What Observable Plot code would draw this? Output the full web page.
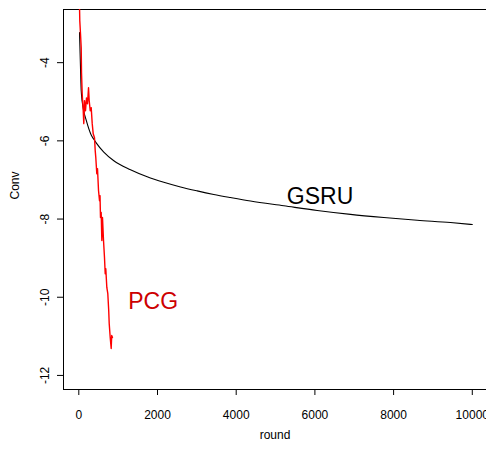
<!DOCTYPE html>
<html>
<head>
<meta charset="utf-8">
<script src="https://cdn.jsdelivr.net/npm/d3@7"></script>
<script src="https://cdn.jsdelivr.net/npm/@observablehq/plot@0.6"></script>
<style>
  html, body { margin: 0; padding: 0; background: #fff; overflow: hidden; }
</style>
</head>
<body>
<div id="chart"></div>
<script>
// GSRU convergence curve (round, Conv)
const gsruRound = [18, 43, 61, 119, 188, 315, 381, 442, 635, 890, 1314, 1738, 2160, 2585, 3009, 3430, 3855, 4363, 5210, 6058, 6905, 7751, 8600, 9446, 10000];
const gsruConv  = [-3.23, -4.13, -4.72, -5.20, -5.47, -5.85, -5.96, -6.05, -6.29, -6.51, -6.74, -6.92, -7.06, -7.18, -7.28, -7.37, -7.45, -7.54, -7.66, -7.78, -7.88, -7.96, -8.03, -8.09, -8.14];

// PCG convergence curve (round, Conv)
const pcgRound = [15, 25, 43, 61, 69, 86, 112, 127, 145, 170, 196, 221, 247, 264, 290, 315, 341, 366, 399, 417, 432, 457, 475, 501, 526, 539, 551, 569, 585, 602, 628, 653, 671, 686, 712, 737, 760, 773, 798, 823, 836, 856];
const pcgConv  = [-2.4, -2.93, -3.26, -3.62, -4.26, -4.79, -5.23, -5.56, -4.97, -5.23, -4.90, -5.05, -4.64, -4.97, -5.23, -5.15, -5.56, -5.82, -5.92, -6.25, -6.43, -6.84, -6.71, -7.27, -7.53, -7.40, -7.96, -7.83, -8.55, -7.96, -8.55, -8.99, -9.40, -9.27, -9.75, -9.91, -10.34, -10.68, -11.03, -11.31, -10.98, -11.03];

const xTicks = [0, 2000, 4000, 6000, 8000, 10000];
const yTicks = [-12, -10, -8, -6, -4];
const seriesLabels = [
  {name: "GSRU", round: 6130, conv: -7.42, color: "#000000"},
  {name: "PCG", round: 1890, conv: -10.1, color: "#cd0000"}
];
const xLabel = "round";
const yLabel = "Conv";

const gsru = gsruRound.map((r, i) => ({round: r, conv: gsruConv[i]}));
const pcg = pcgRound.map((r, i) => ({round: r, conv: pcgConv[i]}));

const xDomain = [-389, 10361];
const yDomain = [-12.36, -2.64];

const chart = Plot.plot({
  width: 486,
  height: 449,
  marginLeft: 63,
  marginRight: 0,
  marginTop: 9,
  marginBottom: 60,
  style: {fontFamily: "'Liberation Sans', Arial, Helvetica, sans-serif", fontSize: "12px", background: "#fff", color: "#000"},
  x: {domain: xDomain, label: null},
  y: {domain: yDomain, label: null},
  marks: [
    Plot.ruleY([yDomain[0], yDomain[1]], {stroke: "#000", strokeWidth: 1}),
    Plot.ruleX([xDomain[0]], {stroke: "#000", strokeWidth: 1}),
    Plot.axisX({ticks: xTicks, tickSize: 6, tickPadding: 15, tickFormat: d => String(d), fontSize: 12, label: null}),
    Plot.axisY({ticks: yTicks, tickSize: 6, tickFormat: () => "", label: null}),
    Plot.text(yTicks, {y: d => d, frameAnchor: "left", text: d => String(d), rotate: -90, dx: -18, fontSize: 12, textAnchor: "middle", lineAnchor: "middle"}),
    Plot.text([xLabel], {frameAnchor: "bottom", text: d => d, dy: 46, fontSize: 12, lineAnchor: "middle"}),
    Plot.text([yLabel], {frameAnchor: "left", text: d => d, rotate: -90, dx: -48, fontSize: 12, lineAnchor: "middle"}),
    Plot.line(gsru, {x: "round", y: "conv", stroke: "#000", strokeWidth: 1.1, curve: "monotone-x", clip: true}),
    Plot.line(pcg, {x: "round", y: "conv", stroke: "#ff0000", strokeWidth: 1.4, clip: true}),
    Plot.text(seriesLabels, {x: "round", y: "conv", text: "name", fill: "color", fontSize: 23, textAnchor: "middle", lineAnchor: "middle"})
  ]
});
document.getElementById("chart").appendChild(chart);
</script>
</body>
</html>
